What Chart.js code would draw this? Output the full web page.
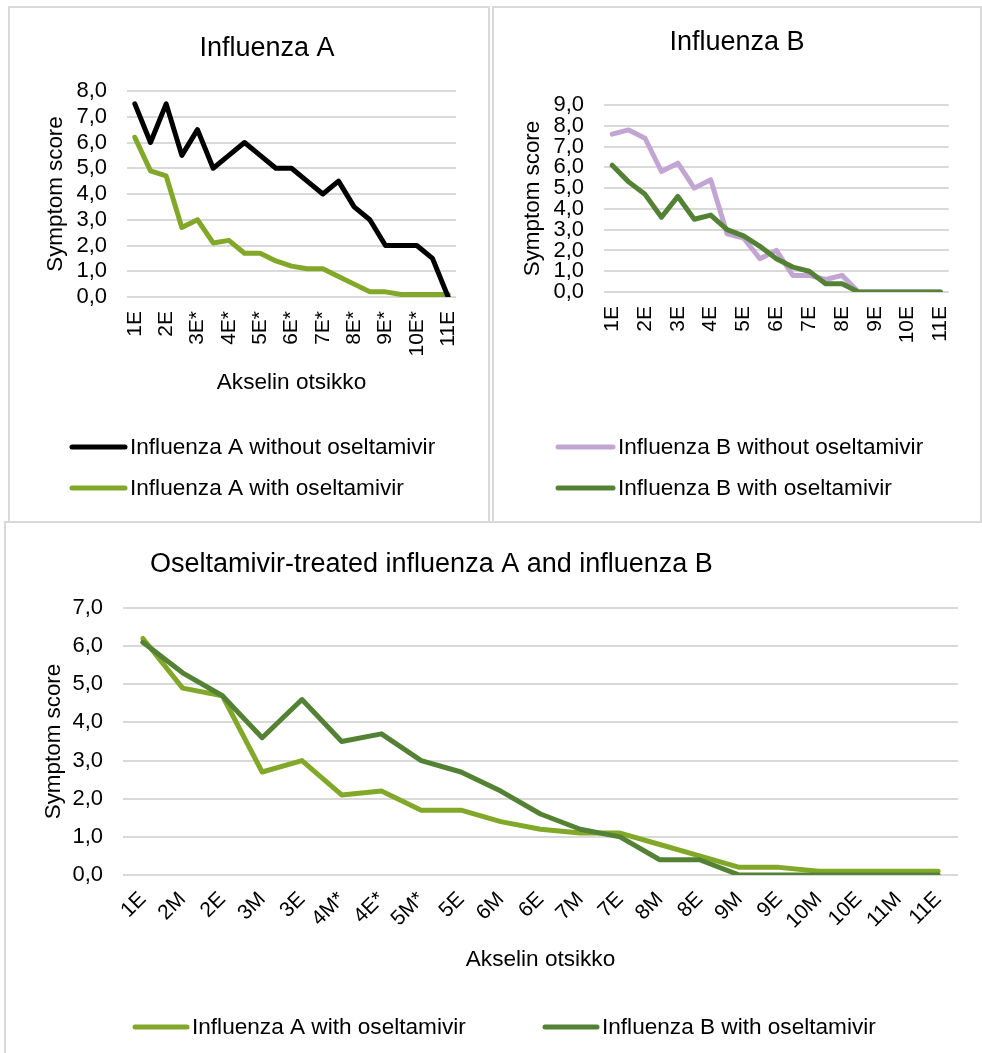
<!DOCTYPE html>
<html>
<head>
<meta charset="utf-8">
<title>Symptom scores, influenza A and B</title>
<script src="https://cdn.jsdelivr.net/npm/chart.js@4/dist/chart.umd.min.js"></script>
<style>
  body { margin: 0; background: #fff; width: 982px; height: 1053px; overflow: hidden; position: relative; }
  .panel { position: absolute; box-sizing: border-box; border: 2px solid #d9d9d9; background: #fff; }
  .panel canvas { display: block; }
  #panelA { left: 8px; top: 6px; width: 482px; height: 517px; }
  #panelB { left: 492px; top: 6px; width: 490px; height: 517px; }
  #panelAB { left: 4px; top: 521px; width: 1000px; height: 560px; }
</style>
</head>
<body>
<div class="panel" id="panelA"><canvas id="chartA" width="478" height="513"></canvas></div>
<div class="panel" id="panelB"><canvas id="chartB" width="486" height="513"></canvas></div>
<div class="panel" id="panelAB"><canvas id="chartAB" width="976" height="530"></canvas></div>
<script>
const FONT = '"Liberation Sans", Arial, sans-serif';

// morning (M) / evening (E) assessments, day 1 to day 11
const labelsA = ['1E', '2M', '2E', '3M*', '3E*', '4M*', '4E*', '5M*', '5E*', '6M*', '6E*',
  '7M*', '7E*', '8M*', '8E*', '9M*', '9E*', '10M*', '10E*', '11M', '11E'];
const labelsB = ['1E', '2M', '2E', '3M', '3E', '4M', '4E', '5M', '5E', '6M', '6E',
  '7M', '7E', '8M', '8E', '9M', '9E', '10M', '10E', '11M', '11E'];
const labelsAB = ['1E', '2M', '2E', '3M', '3E', '4M*', '4E*', '5M*', '5E', '6M', '6E',
  '7M', '7E', '8M', '8E', '9M', '9E', '10M', '10E', '11M', '11E'];

const fluAWithout = [7.5, 6.0, 7.5, 5.5, 6.5, 5.0, 5.5, 6.0, 5.5, 5.0, 5.0, 4.5, 4.0, 4.5, 3.5, 3.0, 2.0, 2.0, 2.0, 1.5, 0.0];
const fluAWith = [6.2, 4.9, 4.7, 2.7, 3.0, 2.1, 2.2, 1.7, 1.7, 1.4, 1.2, 1.1, 1.1, 0.8, 0.5, 0.2, 0.2, 0.1, 0.1, 0.1, 0.1];
const fluBWithout = [7.6, 7.8, 7.4, 5.8, 6.2, 5.0, 5.4, 2.8, 2.6, 1.6, 2.0, 0.8, 0.8, 0.6, 0.8, 0.0, 0.0, 0.0, 0.0, 0.0, 0.0];
const fluBWith = [6.1, 5.3, 4.7, 3.6, 4.6, 3.5, 3.7, 3.0, 2.7, 2.2, 1.6, 1.2, 1.0, 0.4, 0.4, 0.0, 0.0, 0.0, 0.0, 0.0, 0.0];

const BLACK = '#000000';
const LIGHT_GREEN = '#82a82a';
const DARK_GREEN = '#548235';
const LILAC = '#c2a5d2';

Chart.defaults.font.family = FONT;
Chart.defaults.color = '#000';

// title and legend drawn at fixed spots, Excel style
const panelText = {
  id: 'panelText',
  afterDraw(chart, args, opts) {
    const ctx = chart.ctx;
    ctx.save();
    ctx.fillStyle = '#000';
    ctx.textBaseline = 'middle';
    ctx.font = opts.titleSize + 'px ' + FONT;
    ctx.textAlign = opts.titleAlign || 'center';
    ctx.fillText(opts.title, opts.titleX, opts.titleY);

    ctx.font = '22.6px ' + FONT;
    ctx.textAlign = 'left';
    chart.data.datasets.forEach((ds, i) => {
      const x = opts.legendX[i];
      const y = opts.legendY[i];
      ctx.strokeStyle = ds.borderColor;
      ctx.lineWidth = 5;
      ctx.lineCap = 'round';
      ctx.beginPath();
      ctx.moveTo(x, y);
      ctx.lineTo(x + opts.swatch, y);
      ctx.stroke();
      ctx.fillText(ds.label, x + opts.swatch + 5, y + 1);
    });
    ctx.restore();
  }
};

function line(label, data, color, order) {
  return {
    label, data, order,
    borderColor: color,
    backgroundColor: color,
    borderWidth: 5,
    borderJoinStyle: 'round',
    borderCapStyle: 'round',
    pointRadius: 0,
    tension: 0,
    fill: false
  };
}

function makeChart(id, cfg) {
  const labels = cfg.labels;
  return new Chart(document.getElementById(id), {
    type: 'line',
    data: { labels, datasets: cfg.datasets },
    plugins: [panelText],
    options: {
      responsive: false,
      animation: false,
      devicePixelRatio: 1,
      layout: { padding: cfg.padding },
      plugins: {
        legend: { display: false },
        tooltip: { enabled: false },
        panelText: cfg.text
      },
      scales: {
        x: {
          type: 'category',
          offset: true,
          grid: { display: false, drawTicks: false },
          border: { display: false },
          ticks: {
            autoSkip: false,
            minRotation: cfg.rotation,
            maxRotation: cfg.rotation,
            padding: cfg.xTickPad,
            font: { size: 21 },
            callback: (v, i) => (i % cfg.every === 0 ? labels[i] : '')
          },
          title: {
            display: !!cfg.xTitle,
            text: cfg.xTitle || '',
            font: { size: 22.6 },
            padding: 0
          },
          afterFit: s => { s.height = cfg.xHeight; }
        },
        y: {
          min: 0,
          max: cfg.yMax,
          grid: { color: '#d9d9d9', lineWidth: 2, drawTicks: false },
          border: { display: false },
          ticks: {
            stepSize: 1,
            autoSkip: false,
            padding: 20,
            font: { size: 22 },
            callback: v => v.toFixed(1).replace('.', ',')
          },
          title: {
            display: true,
            text: 'Symptom score',
            font: { size: 22.4 },
            padding: 0
          },
          afterFit: s => { s.width = cfg.yWidth; }
        }
      }
    }
  });
}

makeChart('chartA', {
  labels: labelsA,
  datasets: [
    line('Influenza A without oseltamivir', fluAWithout, BLACK, 1),
    line('Influenza A with oseltamivir', fluAWith, LIGHT_GREEN, 2)
  ],
  yMax: 8,
  every: 2,
  rotation: 90,
  xTickPad: 14,
  xTitle: 'Akselin otsikko',
  xHeight: 99,
  yWidth: 85,
  padding: { left: 32, right: 27, top: 83, bottom: 125 },
  text: {
    title: 'Influenza A', titleSize: 27, titleX: 257, titleY: 41,
    legendX: [62, 62], legendY: [439, 480], swatch: 53
  }
});

makeChart('chartB', {
  labels: labelsB,
  datasets: [
    line('Influenza B without oseltamivir', fluBWithout, LILAC, 2),
    line('Influenza B with oseltamivir', fluBWith, DARK_GREEN, 1)
  ],
  yMax: 9,
  every: 2,
  rotation: 90,
  xTickPad: 14,
  xTitle: null,
  xHeight: 80,
  yWidth: 85,
  padding: { left: 25, right: 12, top: 97, bottom: 149 },
  text: {
    title: 'Influenza B', titleSize: 27, titleX: 243, titleY: 35,
    legendX: [64, 64], legendY: [439, 480], swatch: 55
  }
});

makeChart('chartAB', {
  labels: labelsAB,
  datasets: [
    line('Influenza A with oseltamivir', fluAWith, LIGHT_GREEN, 2),
    line('Influenza B with oseltamivir', fluBWith, DARK_GREEN, 1)
  ],
  yMax: 7,
  every: 1,
  rotation: 45,
  xTickPad: 12,
  xTitle: 'Akselin otsikko',
  xHeight: 98,
  yWidth: 83,
  padding: { left: 34, right: 24, top: 85, bottom: 80 },
  text: {
    title: 'Oseltamivir-treated influenza A and influenza B', titleSize: 27,
    titleAlign: 'left', titleX: 144, titleY: 42,
    legendX: [129, 539], legendY: [504, 504], swatch: 52
  }
});
</script>
</body>
</html>
